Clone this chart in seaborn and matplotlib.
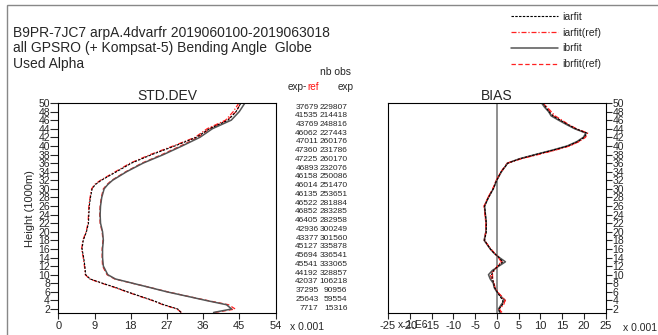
import numpy as np
import pandas as pd
import seaborn as sns
import matplotlib
matplotlib.use('Agg')
import matplotlib.pyplot as plt
from matplotlib import font_manager
from matplotlib.patches import Rectangle

# --- data ------------------------------------------------------------------
title_lines = ['B9PR-7JC7 arpA.4dvarfr 2019060100-2019063018',
               'all GPSRO (+ Kompsat-5) Bending Angle  Globe',
               'Used Alpha']

std_h = [1.2, 2, 3, 4, 5, 6, 7, 8, 9, 10, 12, 14, 16, 18, 20, 22, 24, 26, 28, 30,
         31, 32, 34, 36, 38, 40, 42, 44, 46, 48, 50]
std_iarfit = [30.5, 29.7, 26.2, 23.5, 20.3, 17.2, 14.3, 11.0, 7.9, 6.8, 6.6, 6.3, 5.9, 6.2, 7.0, 7.5,
              7.6, 7.7, 8.0, 8.4, 9.2, 10.7, 14.5, 18.2, 23.3, 29.0, 34.3, 37.6, 42.2, 44.2, 45.4]
std_iarfit_ref = [30.6, 29.5, 26.0, 23.3, 20.1, 17.0, 14.1, 10.8, 7.8, 6.7, 6.5, 6.2, 5.8, 6.1, 6.9, 7.4,
                  7.5, 7.6, 7.9, 8.3, 9.0, 10.5, 14.2, 17.9, 22.9, 28.6, 34.0, 37.0, 41.6, 43.5, 44.9]
std_ibrfit = [38.6, 43.1, 41.8, 36.7, 31.9, 27.0, 22.8, 18.5, 14.2, 12.3, 11.2, 11.0, 11.0, 11.2, 11.0, 10.5,
              10.4, 10.5, 10.8, 11.4, 12.3, 13.5, 17.0, 21.1, 26.2, 30.8, 35.2, 38.3, 43.0, 45.0, 46.4]
std_ibrfit_ref = [39.0, 44.0, 42.3, 37.0, 32.0, 27.2, 22.9, 18.4, 14.0, 12.1, 11.0, 10.9, 10.9, 11.1, 10.9, 10.4,
                  10.3, 10.4, 10.7, 11.2, 12.1, 13.3, 16.8, 20.8, 25.8, 30.4, 34.8, 37.6, 42.0, 44.2, 45.4]

bias_h = [1.2, 2, 3, 4, 5, 6, 7, 8, 9, 10, 11, 12, 13, 14, 15, 16, 18, 20, 22, 24, 26, 28, 30, 32,
          34, 36, 37, 38, 39, 40, 41, 42, 43, 44, 45, 46, 47, 48, 49, 50]
bias_iarfit = [0.6, 0.5, 1.3, 1.4, 0.7, 0.1, -0.5, -0.7, -1.0, -1.2, -0.7, 0.3, 1.4, 0.5, -0.6, -1.5,
               -2.8, -2.4, -2.4, -2.6, -2.8, -1.9, -0.8, 0.0, 1.0, 2.6, 5.3, 9.0, 12.9, 16.4, 18.6,
               20.1, 20.7, 18.2, 16.3, 14.6, 12.9, 12.0, 11.3, 10.6]
bias_iarfit_ref = [1.0, 0.6, 1.6, 1.9, 1.0, 0.2, -0.4, -0.6, -0.9, -1.0, -0.6, 0.2, 1.0, 0.4, -0.5, -1.4,
                   -2.8, -2.5, -2.5, -2.7, -2.9, -2.0, -0.9, -0.1, 1.0, 2.5, 5.6, 9.6, 13.4, 16.8, 18.9,
                   20.4, 20.9, 18.3, 16.5, 15.0, 13.4, 12.5, 11.6, 10.8]
bias_ibrfit = [0.8, 0.4, 1.0, 1.8, 0.9, 0.0, -0.6, -0.8, -1.5, -1.9, -1.0, 0.5, 2.0, 0.6, -0.6, -1.5,
               -2.9, -2.5, -2.4, -2.6, -2.8, -1.9, -0.8, 0.0, 1.1, 2.5, 5.2, 8.9, 12.7, 16.2, 18.4,
               19.9, 20.5, 17.9, 16.0, 14.2, 12.5, 11.9, 11.0, 10.3]
bias_ibrfit_ref = [1.2, 0.5, 1.2, 2.0, 1.1, 0.1, -0.5, -0.7, -1.2, -1.5, -0.8, 0.3, 1.2, 0.5, -0.5, -1.4,
                   -2.9, -2.5, -2.5, -2.7, -2.9, -2.0, -0.9, -0.1, 1.0, 2.4, 5.5, 9.3, 13.2, 16.6, 18.8,
                   20.1, 20.5, 18.1, 16.2, 14.5, 13.0, 12.2, 11.4, 10.6]

nobs_diff = [37679, 41535, 43769, 46062, 47011, 47360, 47225, 46893, 46158, 46014, 46135, 46522,
             46852, 46405, 42936, 43377, 45127, 45694, 45541, 44192, 42037, 37295, 25643, 7717]
nobs_exp = [229807, 214418, 248816, 227443, 260176, 231786, 260170, 232076, 250086, 251470, 253651,
            281884, 283285, 282958, 300249, 301560, 335878, 336541, 333065, 328857, 106218, 90956,
            59554, 15316]

height_ticks = list(range(2, 51, 2))
std_ticks = [0, 9, 18, 27, 36, 45, 54]
bias_ticks = [-25, -20, -15, -10, -5, 0, 5, 10, 15, 20, 25]

# name: (color, linestyle, linewidth)
styles = {
    'iarfit': ('black', (0, (2.2, 1.2)), 0.8),
    'iarfit(ref)': ('#ff2020', (0, (4, 1.5, 1, 1.5)), 0.9),
    'ibrfit': ('#555555', '-', 1.1),
    'ibrfit(ref)': ('#ff2020', (0, (3.5, 2)), 0.9),
}
draw_order = ['ibrfit(ref)', 'ibrfit', 'iarfit(ref)', 'iarfit']

# --- figure -----------------------------------------------------------------
sns.set_style('ticks')
plt.rcParams['font.family'] = ['Liberation Sans', 'DejaVu Sans']

installed = {f.name for f in font_manager.fontManager.ttflist}
if 'Liberation Sans Narrow' in installed:
    num_font, num_size = 'Liberation Sans Narrow', 7.6
else:
    num_font, num_size = 'Liberation Sans', 6.0

W, H = 658, 335
fig = plt.figure(figsize=(W / 100, H / 100), dpi=100)


def fx(px):
    return px / W


def fy(py):
    return 1 - py / H


ax1 = fig.add_axes([fx(58.3), fy(313.3), fx(275.5) - fx(58.3), fy(103) - fy(313.3)])
ax2 = fig.add_axes([fx(388), fy(313.3), fx(605.5) - fx(388), fy(103) - fy(313.3)])

std = {'iarfit': std_iarfit, 'iarfit(ref)': std_iarfit_ref,
       'ibrfit': std_ibrfit, 'ibrfit(ref)': std_ibrfit_ref}
bias = {'iarfit': bias_iarfit, 'iarfit(ref)': bias_iarfit_ref,
        'ibrfit': bias_ibrfit, 'ibrfit(ref)': bias_ibrfit_ref}

handles = {}
for name in draw_order:
    c, ls, lw = styles[name]
    df = pd.DataFrame({'val': std[name], 'h': std_h})
    sns.lineplot(data=df, x='val', y='h', orient='y', estimator=None, sort=False,
                 color=c, linestyle=ls, linewidth=lw, ax=ax1, label=name)
    handles[name] = ax1.lines[-1]
    df = pd.DataFrame({'val': bias[name], 'h': bias_h})
    sns.lineplot(data=df, x='val', y='h', orient='y', estimator=None, sort=False,
                 color=c, linestyle=ls, linewidth=lw, ax=ax2)

ax2.axvline(0, color='#707070', lw=1.1, zorder=0)

for ax in (ax1, ax2):
    ax.set_ylim(1, 50)
    ax.set_xlabel('')
    ax.set_ylabel('')
    for s in ax.spines.values():
        s.set_visible(True)
        s.set_color('black')
        s.set_linewidth(0.8)
    ax.set_yticks(height_ticks)
    ax.tick_params(axis='x', direction='out', length=4.3, width=0.8, pad=1, labelsize=8)
    ax.tick_params(axis='y', direction='out', length=5.5, width=0.8, pad=0.5, labelsize=7.5)
    if ax.get_legend():
        ax.get_legend().remove()

ax1.set_xlim(0, 54)
ax1.set_xticks(std_ticks)
ax1.set_xticklabels([str(t) for t in std_ticks])

ax2.set_xlim(-25, 25)
ax2.set_xticks(bias_ticks)
ax2.set_xticklabels([str(t) for t in bias_ticks])
ax2.yaxis.tick_right()
ax2.tick_params(axis='y', length=4.5, left=False, right=True)

ax1.set_ylabel('Height (1000m)', fontsize=8, labelpad=2.5)

# panel titles
fig.text(fx(167), fy(96), 'STD.DEV', ha='center', va='center', fontsize=10)
fig.text(fx(497), fy(96), 'BIAS', ha='center', va='center', fontsize=10)

# scale notes
fig.text(fx(290), fy(327), 'x 0.001', ha='left', va='center', fontsize=7.5)
fig.text(fx(623), fy(328), 'x 0.001', ha='left', va='center', fontsize=7.5)
fig.text(fx(398), fy(325), 'x 1.E6', ha='left', va='center', fontsize=7.5)

# header lines
for i, line in enumerate(title_lines):
    fig.text(fx(13), fy(33 + 15.3 * i), line, ha='left', va='center', fontsize=10)

# nb obs columns
fig.text(fx(336), fy(72), 'nb obs', ha='center', va='center', fontsize=7.5)
fig.text(fx(288), fy(86.5), 'exp', ha='left', va='center', fontsize=7.2)
fig.text(fx(304.5), fy(86.5), '-', ha='center', va='center', fontsize=7.2)
fig.text(fx(307), fy(86.5), 'ref', ha='left', va='center', fontsize=7.2, color='#ff1010')
fig.text(fx(338), fy(86.5), 'exp', ha='left', va='center', fontsize=7.2)
row_y = np.linspace(107, 308, len(nobs_diff))
for yy, a, b in zip(row_y, nobs_diff, nobs_exp):
    fig.text(fx(318.5), fy(yy), str(a), ha='right', va='center', fontsize=num_size, family=num_font)
    fig.text(fx(347.5), fy(yy), str(b), ha='right', va='center', fontsize=num_size, family=num_font)

# legend
names = ['iarfit', 'iarfit(ref)', 'ibrfit', 'ibrfit(ref)']
fig.legend([handles[n] for n in names], names, loc='upper left',
           bbox_to_anchor=(fx(511), fy(12)), frameon=False, fontsize=7.5,
           handlelength=4.5, handletextpad=0.4, labelspacing=0.55, borderpad=0,
           borderaxespad=0)

# outer frame
fig.add_artist(Rectangle((fx(7), -1), 2, fy(5) + 1, transform=fig.transFigure,
                         fill=False, ec='#888888', lw=1.0))

fig.savefig('out.png', dpi=100)
